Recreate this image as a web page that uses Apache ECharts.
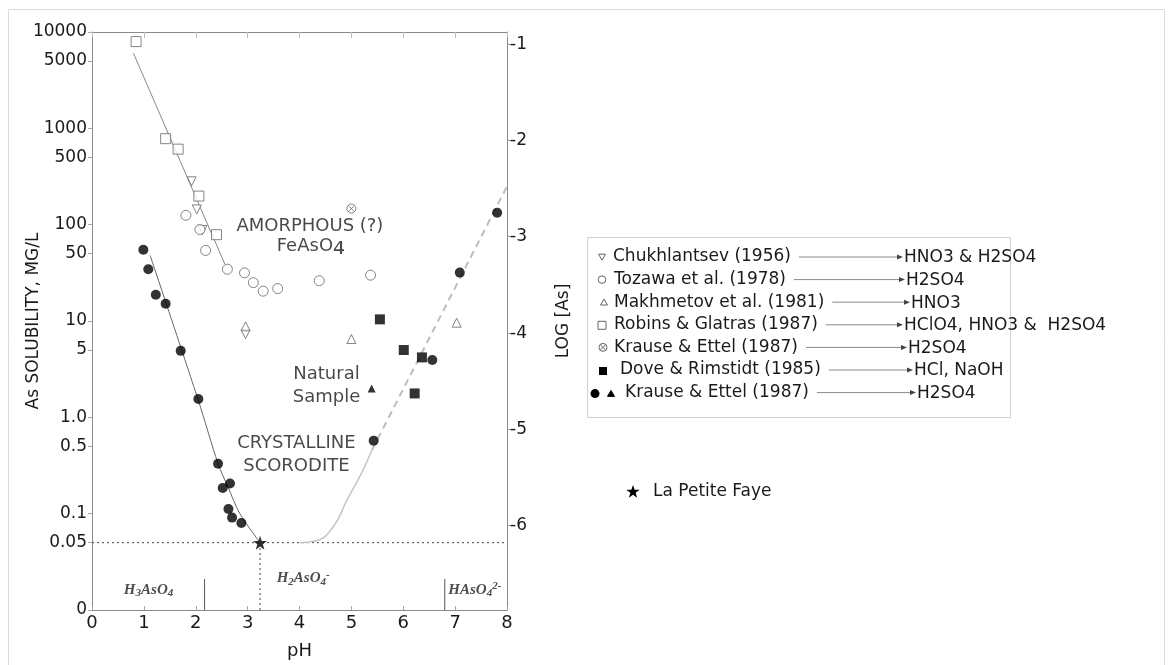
<!DOCTYPE html>
<html><head><meta charset="utf-8">
<script src="https://cdn.jsdelivr.net/npm/echarts@6/dist/echarts.min.js"></script>
<style>html,body{margin:0;padding:0;background:#fff}#c{width:1173px;height:665px}</style>
</head><body><div id="c"></div>
<script>
// ---------------- data ----------------
const AS_MG_PER_MOL = 74922;           // mg of As per mol, links the two y axes
const xTicks = [0, 1, 2, 3, 4, 5, 6, 7, 8];
const leftTickValues = [0.01, 0.05, 0.1, 0.5, 1, 5, 10, 50, 100, 500, 1000, 5000, 10000];
const leftTickLabels = ['0', '0.05', '0.1', '0.5', '1.0', '5', '10', '50', '100', '500', '1000', '5000', '10000'];
const rightTickValues = [-6, -5, -4, -3, -2, -1];

// [pH, As mg/L]
const chukhlantsev = [[1.92, 282], [2.02, 144], [2.13, 88], [2.96, 7.3]];
const tozawa = [[1.81, 125], [2.08, 89], [2.19, 54], [2.61, 34.5], [2.94, 31.6], [3.11, 25], [3.30, 20.4], [3.58, 21.7], [4.38, 26.2], [5.37, 29.9]];
const makhmetov = [[2.96, 8.8], [5.0, 6.5], [7.03, 9.6]];
const robins = [[0.85, 7950], [1.42, 781], [1.66, 608], [2.06, 198], [2.40, 78.7]];
const krauseAmorphous = [[5.0, 147]];
const doveRimstidt = [[5.55, 10.4], [6.01, 5.0], [6.36, 4.19], [6.22, 1.77]];
const krauseScorodite = [[0.99, 55], [1.085, 34.5], [1.23, 18.7], [1.42, 15.1], [1.71, 4.9], [2.05, 1.55], [2.43, 0.33], [2.52, 0.185], [2.66, 0.206], [2.63, 0.112], [2.70, 0.091], [2.88, 0.080], [5.43, 0.573], [6.56, 3.94], [7.09, 31.8], [7.81, 133]];
const naturalSample = [[5.39, 1.99]];
const laPetiteFaye = [[3.24, 0.05]];

// trend lines
const amorphousLine = [[0.80, 6000], [2.56, 39]];
const scoroditeAcidLine = [[1.12, 48], [2.05, 1.5], [2.43, 0.33], [2.62, 0.19], [2.85, 0.10], [3.24, 0.05]];
const scoroditeSolidCurve = [[4.0, 0.05], [4.3, 0.052], [4.65, 0.073], [4.91, 0.137], [5.20, 0.267], [5.40, 0.46]];
const scoroditeDashedLine = [[5.40, 0.46], [8.0, 250]];
const limitHorizontal = [[0, 0.05], [8, 0.05]];
const limitVertical = [[3.24, 0.01], [3.24, 0.05]];
const speciesBoundary1 = [[2.17, 0.01], [2.17, 0.021]];
const speciesBoundary2 = [[6.8, 0.01], [6.8, 0.021]];

// annotations: [pH, mg/L, text]
const annotations = [
  [4.20, 96, '{m|AMORPHOUS (?)}'],
  [4.22, 60, '{m|FeAsO}{su|₄}'],
  [4.52, 2.81, '{m|Natural}'],
  [4.52, 1.63, '{m|Sample}'],
  [3.94, 0.536, '{m|CRYSTALLINE}'],
  [3.94, 0.31, '{m|SCORODITE}'],
  [1.09, 0.0162, '{i|H}{is|3}{i|AsO}{is|4}'],
  [4.07, 0.0214, '{i|H}{is|2}{i|AsO}{is|4}{isup|-}'],
  [7.38, 0.0162, '{i|HAsO}{is|4}{isup|2-}']
];

const legendNames = ['Chukhlantsev (1956)', 'Tozawa et al. (1978)', 'Makhmetov et al. (1981)', 'Robins & Glatras (1987)', 'Krause & Ettel (1987)', 'Dove & Rimstidt (1985)', 'Krause & Ettel (1987)'];
const legendReagents = ['HNO3 & H2SO4', 'H2SO4', 'HNO3', 'HClO4, HNO3 &  H2SO4', 'H2SO4', 'HCl, NaOH', 'H2SO4'];
const starLabel = 'La Petite Faye';

// ---------------- chart ----------------
const FONT = 'DejaVu Sans';
const AX = '#8a8a8a';
const TXT = '#1a1a1a';
const L = v => Math.log10(v);
const toXY = arr => arr.map(p => [p[0], L(p[1])]);
function leftLabel(v) {
  for (let i = 0; i < leftTickValues.length; i++) {
    if (Math.abs(L(leftTickValues[i]) - v) < 1e-6) return leftTickLabels[i];
  }
  return '';
}
const STAR = 'path://M0,-10 L2.35,-3.24 L9.51,-3.09 L3.8,1.24 L5.88,8.09 L0,4 L-5.88,8.09 L-3.8,1.24 L-9.51,-3.09 L-2.35,-3.24 Z';
const OTIMES = 'path://M0,-10 A10,10 0 1,1 0,10 A10,10 0 1,1 0,-10 Z M-7,-7 L7,7 M7,-7 L-7,7';

const openStyle = { color: '#fff', borderColor: '#666', borderWidth: 1 };
const filledStyle = { color: '#000' };

function lineSeries(name, data, lineStyle, extra) {
  return Object.assign({ name, type: 'line', data: toXY(data), symbol: 'none', showSymbol: false, silent: true,
    lineStyle: Object.assign({ width: 1, color: '#777' }, lineStyle), z: 2, animation: false }, extra || {});
}
function scatterSeries(name, data, symbol, size, itemStyle, extra) {
  return Object.assign({ name, type: 'scatter', data: toXY(data), symbol, symbolSize: size, itemStyle, silent: true, z: 5 }, extra || {});
}

const series = [
  lineSeries('limitH', limitHorizontal, { color: '#444', type: [2, 3] }),
  lineSeries('limitV', limitVertical, { color: '#444', type: [2, 3] }),
  lineSeries('pKa1', speciesBoundary1, { color: '#555' }),
  lineSeries('pKa2', speciesBoundary2, { color: '#555' }),
  lineSeries('amorphousLine', amorphousLine, { color: '#888' }),
  lineSeries('scoroditeAcidLine', scoroditeAcidLine, { color: '#666' }, { smooth: 0.3 }),
  lineSeries('scoroditeSolidCurve', scoroditeSolidCurve, { color: '#c4c4c4', width: 1.5 }, { smooth: 0.5 }),
  lineSeries('scoroditeDashedLine', scoroditeDashedLine, { color: '#bdbdbd', width: 2, type: [7, 5] }),
  scatterSeries('Chukhlantsev (1956)', chukhlantsev, 'triangle', 9, openStyle, { symbolRotate: 180 }),
  scatterSeries('Tozawa et al. (1978)', tozawa, 'circle', 10, openStyle),
  scatterSeries('Makhmetov et al. (1981)', makhmetov, 'triangle', 9, openStyle),
  scatterSeries('Robins & Glatras (1987)', robins, 'rect', 10, openStyle),
  scatterSeries('Krause & Ettel (1987) amorphous', krauseAmorphous, OTIMES, 9, { color: 'rgba(255,255,255,0)', borderColor: '#666', borderWidth: 1 }),
  scatterSeries('Dove & Rimstidt (1985)', doveRimstidt, 'rect', 10, filledStyle),
  scatterSeries('Krause & Ettel (1987)', krauseScorodite, 'circle', 10, filledStyle),
  scatterSeries('Natural sample', naturalSample, 'triangle', 8, filledStyle),
  scatterSeries('La Petite Faye', laPetiteFaye, STAR, 14, filledStyle, { z: 6 }),
  {
    name: 'annotations', type: 'scatter', silent: true, symbolSize: 1, z: 4,
    itemStyle: { color: 'rgba(0,0,0,0)' },
    data: annotations.map(a => ({ value: [a[0], L(a[1])], name: a[2] })),
    label: {
      show: true, position: 'inside', formatter: p => p.name, color: TXT,
      rich: {
        m: { fontFamily: FONT, fontSize: 18, color: TXT, lineHeight: 22 },
        su: { fontFamily: FONT, fontSize: 30, color: TXT, lineHeight: 22 },
        i: { fontFamily: 'Liberation Serif', fontStyle: 'italic', fontWeight: 'bold', fontSize: 15, color: '#222', lineHeight: 18 },
        is: { fontFamily: 'Liberation Serif', fontStyle: 'italic', fontWeight: 'bold', fontSize: 11, color: '#222', lineHeight: 18, verticalAlign: 'bottom', padding: [5, 0, 0, 0] },
        isup: { fontFamily: 'Liberation Serif', fontStyle: 'italic', fontWeight: 'bold', fontSize: 11, color: '#222', lineHeight: 18, verticalAlign: 'top' }
      }
    }
  }
];

// ---------------- legend box (graphic) ----------------
const ctx = document.createElement('canvas').getContext('2d');
const LEG_FONT = '17px "DejaVu Sans"';
ctx.font = LEG_FONT;
const legRowTop = 257, legRowGap = 22.6;
const legTextX = [613, 614, 614, 614, 614, 620, 625];
const legSymX = [602, 602, 604, 602, 603, 603, 595];
const legArrowEnd = [903, 905, 910, 903, 907, 913, 916];
const graphics = [
  { type: 'rect', silent: true, shape: { x: 8.5, y: 9.5, width: 1156, height: 670 }, style: { fill: 'none', stroke: '#dcdcdc', lineWidth: 1 } },
  { type: 'rect', silent: true, shape: { x: 587.5, y: 237.5, width: 423, height: 180 }, style: { fill: 'none', stroke: '#d0d0d0', lineWidth: 1 } }
];
function tri(cx, cy, r, down, fill, stroke) {
  const pts = down ? [[cx - r, cy - r * 0.8], [cx + r, cy - r * 0.8], [cx, cy + r * 0.9]] : [[cx - r, cy + r * 0.8], [cx + r, cy + r * 0.8], [cx, cy - r * 0.9]];
  return { type: 'polygon', silent: true, shape: { points: pts }, style: { fill, stroke, lineWidth: 1 } };
}
legendNames.forEach((name, i) => {
  const y = legRowTop + i * legRowGap;
  const sx = legSymX[i];
  if (i === 0) graphics.push(tri(sx, y, 3.5, true, '#fff', '#666'));
  if (i === 1) graphics.push({ type: 'circle', silent: true, shape: { cx: sx, cy: y, r: 3.8 }, style: { fill: '#fff', stroke: '#666', lineWidth: 1 } });
  if (i === 2) graphics.push(tri(sx, y, 3.5, false, '#fff', '#666'));
  if (i === 3) graphics.push({ type: 'rect', silent: true, shape: { x: sx - 4, y: y - 3.5, width: 8, height: 8 }, style: { fill: '#fff', stroke: '#666', lineWidth: 1 } });
  if (i === 4) {
    graphics.push({ type: 'circle', silent: true, shape: { cx: sx, cy: y, r: 4 }, style: { fill: '#fff', stroke: '#666', lineWidth: 1 } });
    graphics.push({ type: 'line', silent: true, shape: { x1: sx - 2.8, y1: y - 2.8, x2: sx + 2.8, y2: y + 2.8 }, style: { stroke: '#666', lineWidth: 1 } });
    graphics.push({ type: 'line', silent: true, shape: { x1: sx + 2.8, y1: y - 2.8, x2: sx - 2.8, y2: y + 2.8 }, style: { stroke: '#666', lineWidth: 1 } });
  }
  if (i === 5) graphics.push({ type: 'rect', silent: true, shape: { x: sx - 4, y: y - 3, width: 8, height: 8 }, style: { fill: '#000' } });
  if (i === 6) {
    graphics.push({ type: 'circle', silent: true, shape: { cx: sx, cy: y + 1, r: 4.5 }, style: { fill: '#000' } });
    graphics.push(tri(sx + 16, y + 1, 3.5, false, '#000', '#000'));
  }
  const tx = legTextX[i];
  graphics.push({ type: 'text', silent: true, style: { text: name, x: tx, y: y, font: LEG_FONT, fill: TXT, verticalAlign: 'middle' } });
  const w = ctx.measureText(name).width;
  const ae = legArrowEnd[i];
  graphics.push({ type: 'line', silent: true, shape: { x1: tx + w + 8, y1: y, x2: ae - 4, y2: y }, style: { stroke: '#8a8a8a', lineWidth: 1 } });
  graphics.push({ type: 'polygon', silent: true, shape: { points: [[ae - 6, y - 2.5], [ae, y], [ae - 6, y + 2.5]] }, style: { fill: '#444' } });
  graphics.push({ type: 'text', silent: true, style: { text: legendReagents[i], x: ae + 1, y: y + 1, font: LEG_FONT, fill: TXT, verticalAlign: 'middle' } });
});
// star entry
graphics.push({ type: 'polygon', silent: true, shape: { points: (function () {
  const pts = [], cx = 633, cy = 492;
  for (let k = 0; k < 10; k++) { const r = k % 2 ? 2.8 : 7; const a = -Math.PI / 2 + k * Math.PI / 5; pts.push([cx + r * Math.cos(a), cy + r * Math.sin(a)]); }
  return pts; })() }, style: { fill: '#000' } });
graphics.push({ type: 'text', silent: true, style: { text: starLabel, x: 653, y: 492, font: LEG_FONT, fill: TXT, verticalAlign: 'middle' } });

const chart = echarts.init(document.getElementById('c'), null, { renderer: 'canvas' });
chart.setOption({
  animation: false,
  backgroundColor: '#fff',
  grid: { left: 92, right: 666, top: 32, bottom: 50 },
  xAxis: [
    { type: 'value', min: xTicks[0], max: xTicks[xTicks.length - 1], interval: 1, position: 'bottom',
      name: 'pH', nameLocation: 'middle', nameGap: 32, nameMoveOverlap: false,
      nameTextStyle: { fontFamily: FONT, fontSize: 18, color: TXT },
      axisLine: { show: true, onZero: false, lineStyle: { color: AX } },
      axisTick: { show: true, inside: true, length: 4, lineStyle: { color: '#aaa' } },
      axisLabel: { fontFamily: FONT, fontSize: 18, color: TXT, margin: 4 },
      splitLine: { show: false } },
    { type: 'value', min: xTicks[0], max: xTicks[xTicks.length - 1], interval: 1, position: 'top',
      axisLine: { show: true, onZero: false, lineStyle: { color: AX } },
      axisTick: { show: true, inside: true, length: 6, lineStyle: { color: '#bbb' } },
      axisLabel: { show: false }, splitLine: { show: false } }
  ],
  yAxis: [
    { type: 'value', min: L(leftTickValues[0]), max: L(leftTickValues[leftTickValues.length - 1]), position: 'left',
      name: 'As SOLUBILITY, MG/L', nameLocation: 'middle', nameGap: 50, nameMoveOverlap: false,
      nameTextStyle: { fontFamily: FONT, fontSize: 17, color: TXT },
      axisLine: { show: true, onZero: false, lineStyle: { color: AX } },
      axisTick: { show: true, length: 4, customValues: leftTickValues.map(L), lineStyle: { color: '#aaa' } },
      axisLabel: { customValues: leftTickValues.map(L), formatter: leftLabel, fontFamily: FONT, fontSize: 17, color: TXT, margin: 5 },
      splitLine: { show: false } },
    { type: 'value', min: L(leftTickValues[0]) - L(AS_MG_PER_MOL), max: L(leftTickValues[leftTickValues.length - 1]) - L(AS_MG_PER_MOL), position: 'right',
      name: 'LOG [As]', nameLocation: 'middle', nameGap: 48, nameMoveOverlap: false,
      nameTextStyle: { fontFamily: FONT, fontSize: 17, color: TXT },
      axisLine: { show: true, onZero: false, lineStyle: { color: AX } },
      axisTick: { show: true, length: 5, customValues: rightTickValues, lineStyle: { color: '#999' } },
      axisLabel: { customValues: rightTickValues, formatter: v => String(Math.round(v)), fontFamily: FONT, fontSize: 17, color: TXT, margin: 3 },
      splitLine: { show: false } }
  ],
  series: series,
  graphic: graphics
});
</script></body></html>
